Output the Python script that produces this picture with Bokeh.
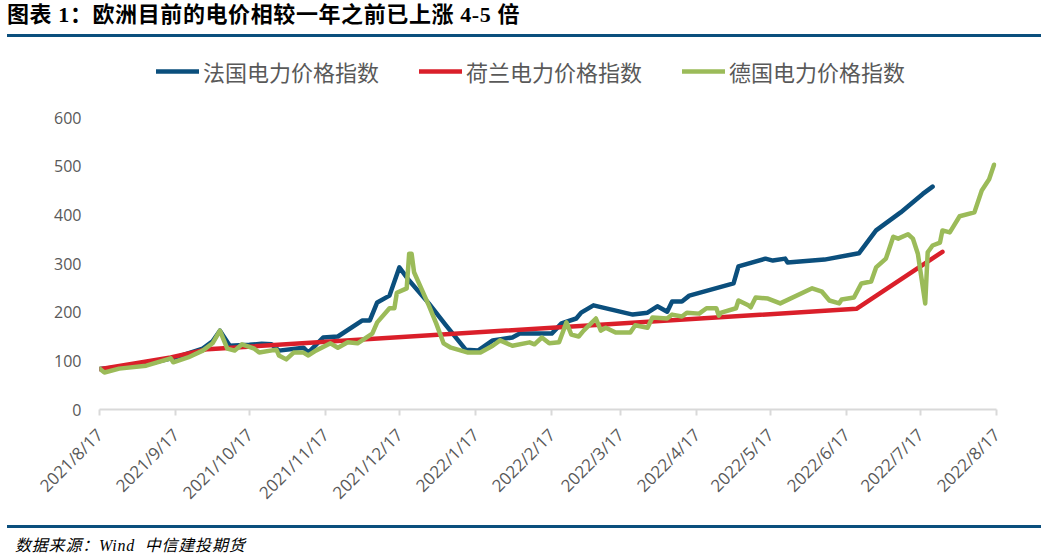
import math
import pandas as pd
from bokeh.plotting import figure
from bokeh.models import Range1d, FixedTicker, Legend, LegendItem, Div
from bokeh.layouts import column
from bokeh.embed import file_html
from bokeh.resources import INLINE

# ---------------- data ----------------
start_date = "2021-08-17"
tick_dates = ["2021-08-17", "2021-09-17", "2021-10-17", "2021-11-17", "2021-12-17",
              "2022-01-17", "2022-02-17", "2022-03-17", "2022-04-17", "2022-05-17",
              "2022-06-17", "2022-07-17", "2022-08-17"]
tick_labels = ["2021/8/17", "2021/9/17", "2021/10/17", "2021/11/17", "2021/12/17",
               "2022/1/17", "2022/2/17", "2022/3/17", "2022/4/17", "2022/5/17",
               "2022/6/17", "2022/7/17", "2022/8/17"]
y_ticks = [0, 100, 200, 300, 400, 500, 600]

fr_dates = ["2021-08-17", "2021-08-25", "2021-09-05", "2021-09-17", "2021-09-28", "2021-10-02",
            "2021-10-05", "2021-10-09", "2021-10-17", "2021-10-22", "2021-10-26", "2021-10-29",
            "2021-11-08", "2021-11-10", "2021-11-16", "2021-11-22", "2021-12-02", "2021-12-05",
            "2021-12-08", "2021-12-13", "2021-12-17", "2021-12-21", "2021-12-29", "2022-01-05",
            "2022-01-13", "2022-01-18", "2022-01-24", "2022-02-01", "2022-02-04", "2022-02-17",
            "2022-02-21", "2022-02-27", "2022-03-01", "2022-03-06", "2022-03-22", "2022-03-28",
            "2022-04-01", "2022-04-05", "2022-04-07", "2022-04-11", "2022-04-14", "2022-05-02",
            "2022-05-04", "2022-05-15", "2022-05-18", "2022-05-23", "2022-05-24", "2022-06-08",
            "2022-06-22", "2022-06-29", "2022-07-09", "2022-07-18", "2022-07-22"]
fr_values = [83, 87, 93, 107, 125, 140,
             162, 131, 133, 135, 134, 121,
             127, 117, 148, 150, 183, 183,
             220, 234, 292, 265, 218, 173,
             123, 121, 142, 148, 156, 156,
             177, 187, 199, 214, 195, 199,
             212, 201, 222, 222, 234, 259,
             294, 310, 306, 310, 302, 308,
             321, 368, 405, 443, 458]

nl_dates = ["2021-08-17", "2021-09-15", "2021-09-30", "2022-06-21", "2022-07-26"]
nl_values = [83, 107, 124, 207, 324]

de_dates = ["2021-08-17", "2021-08-19", "2021-08-25", "2021-09-05", "2021-09-15", "2021-09-16",
            "2021-09-22", "2021-09-28", "2021-10-02", "2021-10-05", "2021-10-08", "2021-10-11",
            "2021-10-14", "2021-10-19", "2021-10-21", "2021-10-28", "2021-10-29", "2021-11-01",
            "2021-11-04", "2021-11-08", "2021-11-10", "2021-11-13", "2021-11-19", "2021-11-22",
            "2021-11-26", "2021-11-30", "2021-12-06", "2021-12-08", "2021-12-13", "2021-12-15",
            "2021-12-16", "2021-12-20", "2021-12-21", "2021-12-22", "2021-12-23", "2021-12-29",
            "2022-01-01", "2022-01-04", "2022-01-07", "2022-01-14", "2022-01-19", "2022-01-24",
            "2022-01-27", "2022-02-01", "2022-02-08", "2022-02-10", "2022-02-13", "2022-02-16",
            "2022-02-20", "2022-02-23", "2022-02-25", "2022-02-28", "2022-03-02", "2022-03-07",
            "2022-03-09", "2022-03-11", "2022-03-15", "2022-03-21", "2022-03-23", "2022-03-28",
            "2022-03-30", "2022-04-05", "2022-04-07", "2022-04-11", "2022-04-13", "2022-04-18",
            "2022-04-21", "2022-04-25", "2022-04-26", "2022-04-27", "2022-05-03", "2022-05-04",
            "2022-05-08", "2022-05-09", "2022-05-11", "2022-05-16", "2022-05-21", "2022-06-03",
            "2022-06-07", "2022-06-10", "2022-06-14", "2022-06-15", "2022-06-20", "2022-06-23",
            "2022-06-27", "2022-06-29", "2022-07-03", "2022-07-06", "2022-07-08", "2022-07-12",
            "2022-07-14", "2022-07-16", "2022-07-19", "2022-07-20", "2022-07-22", "2022-07-25",
            "2022-07-26", "2022-07-29", "2022-08-02", "2022-08-08", "2022-08-11", "2022-08-14",
            "2022-08-16"]
de_values = [84, 76, 84, 90, 105, 97,
             107, 121, 136, 162, 125, 121,
             134, 125, 117, 123, 111, 103,
             117, 117, 111, 121, 136, 127,
             138, 136, 156, 179, 208, 208,
             240, 249, 320, 320, 282, 214,
             177, 136, 127, 117, 117, 131,
             142, 131, 138, 134, 148, 136,
             138, 179, 154, 150, 162, 187,
             162, 168, 158, 158, 173, 168,
             189, 187, 195, 191, 199, 197,
             208, 208, 193, 199, 208, 224,
             214, 210, 230, 228, 218, 249,
             242, 224, 218, 226, 230, 259,
             263, 292, 310, 355, 351, 360,
             351, 320, 218, 323, 337, 343,
             368, 364, 397, 405, 450, 473,
             503]

series_names = ["法国电力价格指数", "荷兰电力价格指数", "德国电力价格指数"]
series_colors = ["#0B4F7D", "#DA1F2A", "#9BBB59"]

title_text = "图表 1：欧洲目前的电价相较一年之前已上涨 4-5 倍"
source_text = "数据来源：Wind  中信建投期货"

# ---------------- helpers ----------------
t0 = pd.Timestamp(start_date)

def to_days(dates):
    return [(pd.Timestamp(d) - t0).days for d in dates]

tick_pos = to_days(tick_dates)

W = 1041
NAVY = "#0B4F7D"
GREY = "#595959"

FRAME_H = 364          # frame from y=45 to y=409 (page)
Y_TOP = 600 * FRAME_H / 292.0   # so that 600 sits at y=117, leaving room for the legend

# ---------------- title ----------------
title_div = Div(
    text=title_text,
    width=W - 7, height=37, margin=(0, 0, 0, 7),
    styles={
        "font-family": "'Liberation Serif', 'Noto Sans CJK SC'",
        "font-size": "22px", "font-weight": "bold", "color": "#000000",
        "letter-spacing": "0.6px",
        "border-bottom": "3px solid " + NAVY, "box-sizing": "border-box",
        "padding-top": "2px", "line-height": "26px",
        "white-space": "nowrap", "overflow": "visible",
    },
)

# ---------------- figure ----------------
p = figure(width=W, height=488, output_backend="svg", toolbar_location=None,
           x_range=Range1d(0, 365), y_range=Range1d(0, Y_TOP),
           min_border_left=99, min_border_right=45, min_border_top=8,
           min_border_bottom=116, margin=(0, 0, 0, 0))
p.outline_line_color = None
p.background_fill_color = "white"
p.border_fill_color = "white"
p.xgrid.visible = False
p.ygrid.visible = False

renderers = []
for dates, vals, col in [(fr_dates, fr_values, series_colors[0]),
                         (nl_dates, nl_values, series_colors[1]),
                         (de_dates, de_values, series_colors[2])]:
    r = p.line(to_days(dates), vals, line_width=4.5, color=col,
               line_join="round", line_cap="round")
    renderers.append(r)

# x axis
xa = p.xaxis[0]
xa.ticker = FixedTicker(ticks=tick_pos)
xa.major_label_overrides = {tp: lab for tp, lab in zip(tick_pos, tick_labels)}
xa.major_label_orientation = math.pi / 4
xa.axis_line_color = "#D9D9D9"
xa.axis_line_width = 2
xa.major_tick_line_color = "#D9D9D9"
xa.major_tick_line_width = 2
xa.major_tick_out = 6
xa.major_tick_in = 0
xa.minor_tick_line_color = None
xa.major_label_standoff = 16
xa.major_label_text_font = "Open Sans"
xa.major_label_text_font_size = "17px"
xa.major_label_text_color = GREY

# y axis
ya = p.yaxis[0]
ya.ticker = FixedTicker(ticks=y_ticks)
ya.axis_line_color = None
ya.major_tick_line_color = None
ya.minor_tick_line_color = None
ya.major_tick_out = 0
ya.major_tick_in = 0
ya.major_label_standoff = 18
ya.major_label_text_font = "Open Sans"
ya.major_label_text_font_size = "16px"
ya.major_label_text_color = GREY

legend = Legend(
    items=[LegendItem(label=n, renderers=[r]) for n, r in zip(series_names, renderers)],
    orientation="horizontal", location=(57, 322),
    glyph_width=43, glyph_height=20, label_standoff=4, spacing=40,
    padding=0, margin=0, border_line_color=None, background_fill_alpha=0,
    label_text_font="Noto Sans CJK SC", label_text_font_size="22px",
    label_text_color=GREY,
)
p.add_layout(legend, "center")

# ---------------- footer ----------------
footer_div = Div(
    text=source_text,
    width=W - 7, height=32, margin=(0, 0, 0, 7),
    styles={
        "font-family": "'Liberation Serif', 'Noto Sans CJK SC'",
        "font-size": "16px", "font-style": "italic", "color": "#000000",
        "letter-spacing": "0.8px",
        "border-top": "3px solid " + NAVY, "box-sizing": "border-box",
        "padding-top": "8px", "line-height": "20px", "padding-left": "8px",
        "white-space": "pre", "overflow": "visible",
    },
)

layout = column(title_div, p, footer_div, spacing=0, margin=(0, 0, 0, 0))
open("out.html", "w").write(file_html(layout, INLINE))
